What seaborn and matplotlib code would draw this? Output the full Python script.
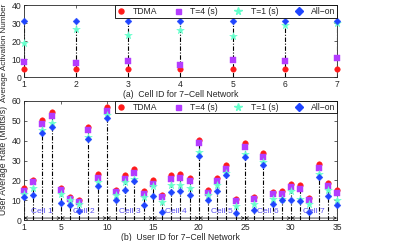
import matplotlib
matplotlib.use("Agg")
import matplotlib.pyplot as plt
from matplotlib.lines import Line2D
import seaborn as sns
import numpy as np
import pandas as pd

# ---------------- data ----------------
cells = [1, 2, 3, 4, 5, 6, 7]
act_tdma = [4.6, 4.6, 4.6, 4.6, 4.6, 4.6, 4.6]
act_t4 = [8.5, 8.0, 9.1, 6.7, 9.4, 8.9, 10.4]
act_t1 = [19.1, 26.5, 23.3, 26.1, 22.8, 28.9, 30.2]
act_allon = [31.3, 31.3, 31.3, 31.3, 31.3, 31.3, 31.3]

users = list(range(1, 36))
rate_tdma = [16.3, 20.3, 50.3, 54.2, 16.3, 11.7, 10.3, 47.0, 23.0, 57.0,
             15.3, 22.5, 25.5, 14.5, 20.0, 12.8, 22.5, 23.0, 21.3, 40.3,
             15.0, 21.2, 27.5, 10.5, 38.7, 11.7, 33.7, 14.2, 14.7, 18.3,
             17.5, 11.2, 28.0, 18.8, 15.3]
rate_t4 = [14.7, 19.2, 48.3, 52.2, 15.3, 10.5, 9.2, 45.3, 21.2, 55.0,
           14.2, 20.8, 23.7, 13.0, 18.3, 11.7, 20.5, 21.2, 19.5, 38.7,
           13.7, 19.5, 25.8, 9.5, 36.7, 10.5, 31.7, 13.0, 13.3, 16.7,
           15.8, 10.0, 26.2, 17.2, 13.7]
rate_t1 = [13.3, 16.3, 45.3, 48.7, 13.3, 10.0, 8.0, 42.0, 19.2, 53.0,
           12.8, 19.2, 20.8, 11.7, 17.0, 9.2, 17.5, 17.8, 16.3, 34.2,
           12.5, 17.5, 23.7, 7.0, 33.3, 8.3, 29.2, 10.8, 10.8, 14.7,
           10.8, 8.3, 23.0, 15.0, 10.3]
rate_allon = [11.7, 12.8, 43.8, 47.0, 8.7, 7.5, 4.7, 40.8, 17.0, 51.3,
              10.3, 15.0, 19.7, 7.5, 12.0, 4.2, 14.0, 14.7, 12.8, 32.5,
              10.0, 14.5, 22.5, 3.3, 32.0, 5.0, 27.5, 8.3, 10.3, 10.3,
              9.7, 4.0, 21.7, 12.0, 7.5]

series_names = ["TDMA", "T=4 (s)", "T=1 (s)", "All\u2212on"]
cell_labels = ["Cell 1", "Cell 2", "Cell 3", "Cell 4", "Cell 5", "Cell 6", "Cell 7"]
cell_bounds = [1, 5, 10, 15, 20, 25, 30, 35]
x_ticks_b = [1, 5, 10, 15, 20, 25, 30, 35]

colors = {"TDMA": "#ff1a1a", "T=4 (s)": "#b43cff", "T=1 (s)": "#66ffcc", "All\u2212on": "#1f45ff"}
markers = {"TDMA": "o", "T=4 (s)": "s", "T=1 (s)": "*", "All\u2212on": "D"}
sizes = {"TDMA": 16, "T=4 (s)": 13, "T=1 (s)": 34, "All\u2212on": 12}

FS = 6.2

# ---------------- style ----------------
sns.set_style("ticks")
plt.rcParams["font.family"] = ["Liberation Sans", "DejaVu Sans"]
plt.rcParams["font.size"] = FS
plt.rcParams["xtick.direction"] = "in"
plt.rcParams["ytick.direction"] = "in"
plt.rcParams["xtick.major.size"] = 2.5
plt.rcParams["ytick.major.size"] = 2.5
plt.rcParams["axes.linewidth"] = 0.6

fig = plt.figure(figsize=(4.05, 2.41), dpi=100)
ax1 = fig.add_axes([0.059, 0.680, 0.773, 0.299])
ax2 = fig.add_axes([0.059, 0.087, 0.773, 0.494])


def long_df(x, vals):
    rows = []
    for name, v in zip(series_names, vals):
        for xi, yi in zip(x, v):
            rows.append({"x": xi, "y": yi, "series": name})
    return pd.DataFrame(rows)


def draw(ax, x, vals):
    top = np.max(np.array(vals), axis=0)
    ax.vlines(x, 0, top, colors="black", linestyles=(0, (4, 1.5, 1, 1.5)), linewidth=0.8, zorder=1)
    df = long_df(x, vals)
    for name in series_names:
        sub = df[df["series"] == name]
        sns.scatterplot(data=sub, x="x", y="y", ax=ax, color=colors[name],
                        marker=markers[name], s=sizes[name], linewidth=0.3,
                        edgecolor=colors[name], legend=False, zorder=3, clip_on=False)
    handles = [Line2D([], [], linestyle="none", marker=markers[n], color=colors[n],
                      markersize=3.6 if n != "T=1 (s)" else 5.5, label=n) for n in series_names]
    leg = ax.legend(handles=handles, ncol=4, loc="upper right", frameon=True,
                    fancybox=False, edgecolor="black", framealpha=1, fontsize=FS,
                    borderpad=0.2, handletextpad=0.9, columnspacing=1.9,
                    handlelength=1.0, borderaxespad=0)
    leg.get_frame().set_linewidth(0.6)
    ax.tick_params(top=True, right=True, labelsize=FS, width=0.5, pad=2)
    ax.set_ylabel("")
    ax.set_xlabel("")


draw(ax1, cells, [act_tdma, act_t4, act_t1, act_allon])
ax1.set_xlim(1, 7)
ax1.set_ylim(0, 40)
ax1.set_xticks(cells)
ax1.set_yticks([0, 10, 20, 30, 40])
ax1.set_xlabel("(a)  Cell ID for 7\u2212Cell Network", fontsize=FS, labelpad=0.5)
ax1.set_ylabel("Average Activation Number", fontsize=5.9)
ax1.yaxis.set_label_coords(-0.052, 0.34)

draw(ax2, users, [rate_tdma, rate_t4, rate_t1, rate_allon])
ax2.set_xlim(1, 35)
ax2.set_ylim(0, 60)
ax2.set_xticks(x_ticks_b)
ax2.set_yticks([0, 10, 20, 30, 40, 50, 60])
ax2.set_xlabel("(b)  User ID for 7\u2212Cell Network", fontsize=FS, labelpad=0.5)
ax2.set_ylabel("User Average Rate (Mbits/s)", fontsize=FS)
ax2.yaxis.set_label_coords(-0.052, 0.5)

for i, lab in enumerate(cell_labels):
    a, b = cell_bounds[i], cell_bounds[i + 1]
    ax2.annotate("", xy=(a, 1.0), xytext=(b, 1.0),
                 arrowprops=dict(arrowstyle="<->", color="black", lw=0.5,
                                 mutation_scale=5, shrinkA=0, shrinkB=0))
    ax2.text((a + b) / 2, 4.2, lab, color="#5a50f0", fontsize=6,
             ha="center", va="center", zorder=4)

fig.savefig("out.png", dpi=100)
